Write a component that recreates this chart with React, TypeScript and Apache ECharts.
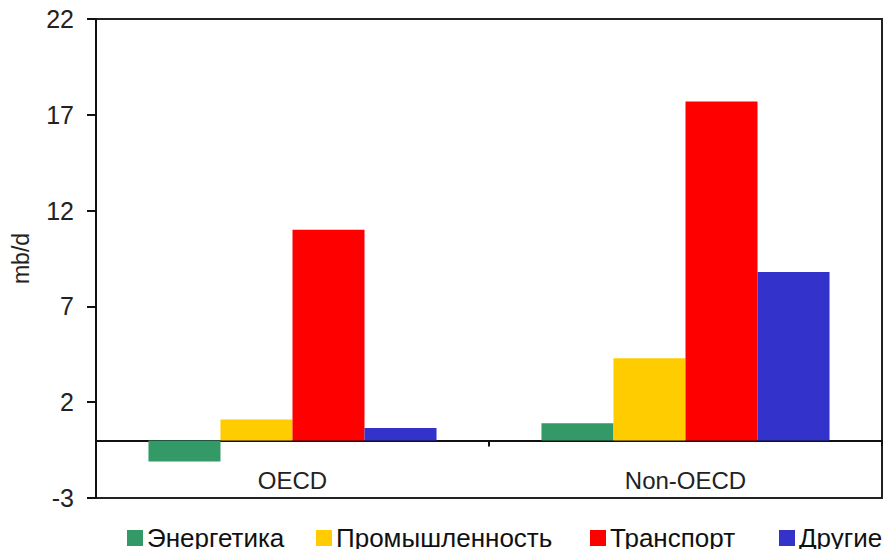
import React, { useEffect, useRef } from "react";
import * as echarts from "echarts";

const categories = ["OECD", "Non-OECD"];
const seriesNames = ["Энергетика", "Промышленность", "Транспорт", "Другие"];
const energy = [-1.1, 0.9];
const industry = [1.1, 4.3];
const transport = [11.0, 17.7];
const others = [0.65, 8.8];
const colors = ["#339966", "#FFCC00", "#FF0000", "#3333CC"];
const legendLefts = [127, 316, 590, 779];

const FONT = "'Liberation Sans', Arial, sans-serif";

export default function App() {
  const ref = useRef<HTMLDivElement>(null);
  useEffect(() => {
    const chart = echarts.init(ref.current!, null, { renderer: "svg" });
    const values = [energy, industry, transport, others];
    chart.setOption({
      animation: false,
      textStyle: { fontFamily: FONT },
      grid: {
        left: 96,
        top: 19,
        right: 11,
        bottom: 59,
        show: true,
        borderColor: "#222",
        borderWidth: 2,
        containLabel: false,
      },
      legend: seriesNames.map((name, i) => ({
        top: 525,
        left: legendLefts[i],
        padding: 0,
        itemWidth: 16,
        itemHeight: 16,
        itemGap: 4,
        icon: "rect",
        textStyle: { fontSize: 26, color: "#111", fontFamily: FONT, padding: [0, 0, 0, -1] },
        data: [name],
      })),
      xAxis: {
        type: "category",
        data: categories,
        axisLine: { onZero: true, lineStyle: { color: "#111", width: 2 } },
        axisTick: { show: true, inside: false, length: 6, lineStyle: { color: "#111", width: 2 } },
        axisLabel: { fontSize: 24, color: "#222", margin: -30, fontFamily: FONT },
      },
      yAxis: {
        type: "value",
        min: -3,
        max: 22,
        interval: 5,
        name: "mb/d",
        nameLocation: "middle",
        nameGap: 64,
        nameRotate: 90,
        nameTextStyle: { fontSize: 23, color: "#222", fontFamily: FONT },
        splitLine: { show: false },
        axisLine: { show: true, lineStyle: { color: "#111", width: 2 } },
        axisTick: { show: true, length: 9, lineStyle: { color: "#111", width: 2 } },
        axisLabel: { fontSize: 25, color: "#222", margin: 22, fontFamily: FONT },
      },
      series: seriesNames.map((name, i) => ({
        name,
        type: "bar",
        data: values[i],
        barGap: "0%",
        barCategoryGap: "26.7%",
        itemStyle: { color: colors[i] },
      })),
    });
    return () => chart.dispose();
  }, []);
  return <div ref={ref} style={{ width: 893, height: 557, margin: -8 }} />;
}
